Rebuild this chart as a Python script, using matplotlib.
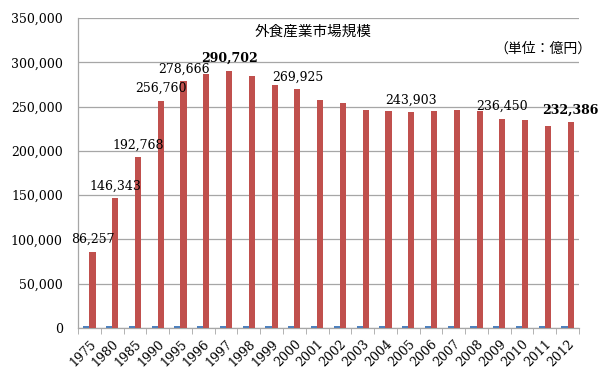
import matplotlib
matplotlib.use("Agg")
import matplotlib.pyplot as plt
import numpy as np

years = ["1975", "1980", "1985", "1990", "1995", "1996", "1997", "1998", "1999",
         "2000", "2001", "2002", "2003", "2004", "2005", "2006", "2007", "2008",
         "2009", "2010", "2011", "2012"]
# the year column was plotted as a series too (tiny blue bars)
year_series = [int(y) for y in years]
market = [86257, 146343, 192768, 256760, 278666, 286503, 290702, 284961, 273880,
          269925, 257200, 253800, 245684, 245047, 243903, 245523, 246048, 245068,
          236450, 234887, 228282, 232386]
# year -> bold label?
labelled = {"1975": False, "1980": False, "1985": False, "1990": False, "1995": False,
            "1997": True, "2000": False, "2005": False, "2009": False, "2012": True}

RED = "#C0504D"
BLUE = "#4F81BD"
GRID = "#A6A6A6"
SERIF = "DejaVu Serif"
JP = ["Noto Sans CJK JP", "DejaVu Sans"]

fig = plt.figure(figsize=(6.0, 3.79), dpi=100)
ax = fig.add_axes([78 / 600, 1 - 328 / 379, 501 / 600, 310 / 379])

x = np.arange(len(years))
w = 0.27
ax.bar(x - w / 2, year_series, width=w, color=BLUE, zorder=3)
ax.bar(x + w / 2, market, width=w, color=RED, zorder=3)

for yr, bold in labelled.items():
    i = years.index(yr)
    ax.annotate(f"{market[i]:,}", (x[i] + w / 2, market[i]), xytext=(0, 4),
                textcoords="offset points", ha="center", va="bottom",
                fontsize=9, family=SERIF, fontweight="bold" if bold else "normal",
                color="black", zorder=4)

ax.set_xlim(-0.5, len(years) - 0.5)
ax.set_ylim(0, 350000)
ax.set_yticks(np.arange(0, 350001, 50000))
ax.set_yticklabels([f"{v:,}" for v in range(0, 350001, 50000)], family=SERIF, fontsize=9)
ax.yaxis.grid(True, color=GRID, linewidth=0.9, zorder=0)
ax.tick_params(axis="y", length=0, pad=11)

ax.set_xticks(x)
ax.set_xticklabels(years, rotation=45, ha="right", rotation_mode="anchor",
                   family=SERIF, fontsize=9)
ax.set_xticks(np.arange(-0.5, len(years), 1.0), minor=True)
ax.tick_params(axis="x", which="major", length=0, pad=7)
ax.tick_params(axis="x", which="minor", length=4, color=GRID)

for side in ("top", "right"):
    ax.spines[side].set_visible(False)
for side in ("left", "bottom"):
    ax.spines[side].set_color(GRID)
    ax.spines[side].set_linewidth(0.9)

fig.text(313 / 600, 1 - 32 / 379, "外食産業市場規模", ha="center", va="center",
         fontsize=10.5, family=JP)
fig.text(592 / 600, 1 - 49 / 379, "（単位：億円）", ha="right", va="center",
         fontsize=10, family=JP)

fig.savefig("out.png", dpi=100)
